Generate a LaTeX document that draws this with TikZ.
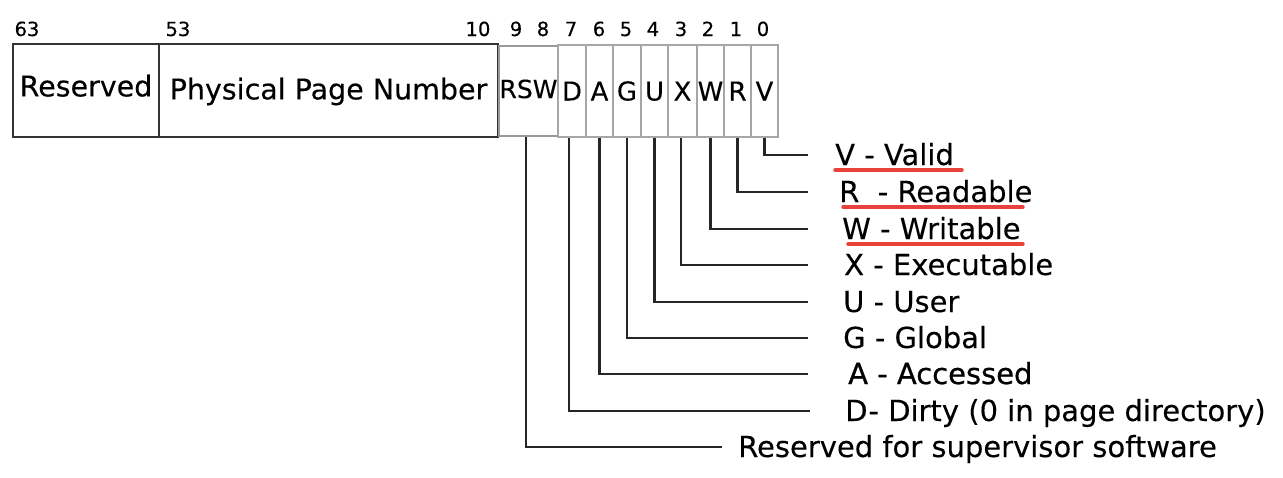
\documentclass[tikz,border=0pt]{standalone}
\usepackage{fontspec}
\setmainfont[FakeBold=0.25]{DejaVu Sans}
\newfontfamily\heavyfont[FakeBold=0.8]{DejaVu Sans}
\definecolor{markred}{RGB}{232,66,58}
\begin{document}
\begin{tikzpicture}[x=1pt, y=-1pt,
    field/.style={draw=black!80, line width=1.6pt, minimum height=93pt, inner sep=0pt,
        text depth=0pt, font=\fontsize{28.5}{30}\selectfont},
    flag/.style={draw=black!35, line width=1.3pt, minimum height=92pt, inner sep=0pt,
        text height=19pt, text depth=0pt, font=\fontsize{26}{28}\selectfont},
    bitno/.style={anchor=base, inner sep=0pt, font=\fontsize{19.5}{21}\selectfont},
    desc/.style={anchor=base west, inner sep=0pt, font=\fontsize{29}{31}\selectfont},
    wire/.style={line width=2.2pt, black!85},
    redline/.style={line width=3.4pt, line cap=round, markred}]
    \useasboundingbox (0,0) rectangle (1283,477);
    % bit numbers
    \node[bitno] (n_63) at (27,36) {63};
    \node[bitno] (n_53) at (178,36) {53};
    \node[bitno] (n_10) at (478,36) {10};
    \node[bitno] (n_9) at (516,36) {9};
    \node[bitno] (n_8) at (543,36) {8};
    \node[bitno] (n_7) at (571,36) {7};
    \node[bitno] (n_6) at (599,36) {6};
    \node[bitno] (n_5) at (626,36) {5};
    \node[bitno] (n_4) at (653,36) {4};
    \node[bitno] (n_3) at (681,36) {3};
    \node[bitno] (n_2) at (708,36) {2};
    \node[bitno] (n_1) at (736,36) {1};
    \node[bitno] (n_0) at (763,36) {0};
    % fields
    \node[field, minimum width=146pt, text height=11.8pt] (res) at (86,90.5) {Reserved};
    \node[field, minimum width=339pt, text height=17.8pt] (ppn) at (328.5,90.5) {Physical Page Number};
    \node[flag, draw=black!40, line width=2.4pt, minimum width=59pt, minimum height=90pt,
        text height=14.2pt, font=\fontsize{25}{26}\selectfont] (rsw) at (528.5,91) {RSW};
    \node[flag, minimum width=28pt] (bitD) at (572,91) {D};
    \node[flag, minimum width=27pt] (bitA) at (599.5,91) {A};
    \node[flag, minimum width=28pt] (bitG) at (627,91) {G};
    \node[flag, minimum width=27pt] (bitU) at (654.5,91) {U};
    \node[flag, minimum width=29pt] (bitX) at (682.5,91) {X};
    \node[flag, minimum width=27pt] (bitW) at (710.5,91) {W};
    \node[flag, minimum width=27pt] (bitR) at (737.5,91) {R};
    \node[flag, minimum width=27pt] (bitV) at (764.5,91) {V};
    % wire ends
    \coordinate (V_1) at (808,155);
    \coordinate (R_1) at (808,192);
    \coordinate (W_1) at (808,229);
    \coordinate (X_1) at (808,265);
    \coordinate (U_1) at (808,302);
    \coordinate (G_1) at (808,338);
    \coordinate (A_1) at (808,374);
    \coordinate (D_1) at (810,411);
    \coordinate (RSW_1) at (722,447);
    \draw[wire] (bitV.south) |- (V_1);
    \draw[wire] (bitR.south) |- (R_1);
    \draw[wire] (bitW.south) |- (W_1);
    \draw[wire] ([xshift=-1.5pt]bitX.south) |- (X_1);
    \draw[wire] (bitU.south) |- (U_1);
    \draw[wire] (bitG.south) |- (G_1);
    \draw[wire] (bitA.south) |- (A_1);
    \draw[wire] ([xshift=-3pt]bitD.south) |- (D_1);
    \draw[wire] ([xshift=-2.5pt]rsw.south) |- (RSW_1);
    % descriptions
    \node[desc] (lblV) at (835,165) {V - Valid};
    \node[desc] (lblR) at (839,202) {R\ \ - Readable};
    \node[desc] (lblW) at (842,239) {W - Writable};
    \node[desc] (lblX) at (844,275) {X - Executable};
    \node[desc] (lblU) at (843,312) {U - User};
    \node[desc] (lblG) at (843,348) {G - Global};
    \node[desc, font=\fontsize{29}{31}\heavyfont] (lblA) at (848,384) {A - Accessed};
    \node[desc] (lblD) at (845,421) {D\kern1pt- Dirty (0 in page directory)};
    \node[desc] (lblRSW) at (738,457) {Reserved for supervisor software};
    % red underlines
    \draw[redline] (835,170) -- (962,170);
    \draw[redline] (843,207) -- (1023,207);
    \draw[redline] (848,244) -- (1023,244);
\end{tikzpicture}
\end{document}
